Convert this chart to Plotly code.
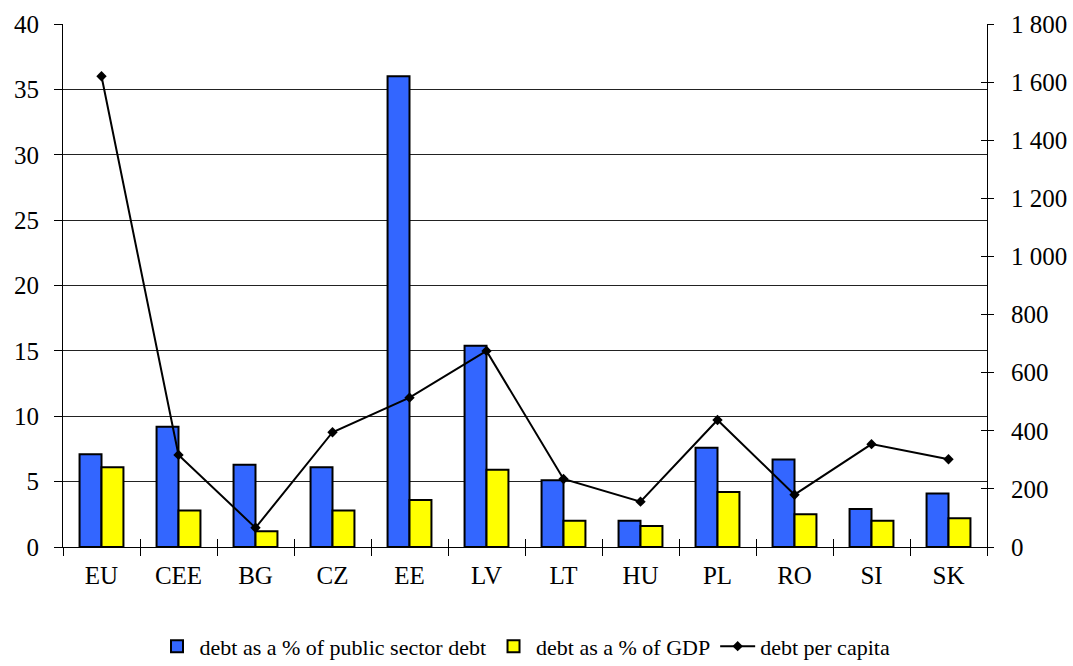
import plotly.graph_objects as go

categories = ["EU", "CEE", "BG", "CZ", "EE", "LV", "LT", "HU", "PL", "RO", "SI", "SK"]
pct_public_debt = [7.1, 9.2, 6.3, 6.1, 36.0, 15.4, 5.1, 2.0, 7.6, 6.7, 2.9, 4.1]
pct_gdp = [6.1, 2.8, 1.2, 2.8, 3.6, 5.9, 2.0, 1.6, 4.2, 2.5, 2.0, 2.2]
per_capita = [1620, 317, 66, 395, 514, 675, 234, 156, 437, 180, 354, 302]

left_ticks = [0, 5, 10, 15, 20, 25, 30, 35, 40]
right_ticks = [0, 200, 400, 600, 800, 1000, 1200, 1400, 1600, 1800]

FONT = "Liberation Serif"
TICK_SIZE = 25

fig = go.Figure()
fig.add_trace(go.Bar(
    x=categories, y=pct_public_debt, name="debt as a % of public sector debt",
    marker=dict(color="#3366FF", line=dict(color="black", width=2)),
))
fig.add_trace(go.Bar(
    x=categories, y=pct_gdp, name="debt as a % of GDP",
    marker=dict(color="#FFFF00", line=dict(color="black", width=2)),
))
fig.add_trace(go.Scatter(
    x=categories, y=per_capita, name="debt per capita", yaxis="y2",
    mode="lines+markers", line=dict(color="black", width=2),
    marker=dict(symbol="diamond", size=8, color="black"),
))
# invisible helper traces so the overlay axes (for crossing ticks) are drawn
fig.add_trace(go.Scatter(x=categories, y=[None] * len(categories), xaxis="x2",
                         showlegend=False, hoverinfo="skip", mode="markers"))
fig.add_trace(go.Scatter(x=categories, y=[None] * len(categories), yaxis="y3",
                         showlegend=False, hoverinfo="skip", mode="markers"))

xrange = [-0.5, len(categories) - 0.5]

fig.update_layout(
    width=1073, height=666,
    margin=dict(l=63, r=86, t=24, b=119, autoexpand=False),
    paper_bgcolor="white", plot_bgcolor="white",
    font=dict(family=FONT, size=TICK_SIZE, color="black"),
    separators=". ",
    barmode="group", bargap=0.43, bargroupgap=0,
    xaxis=dict(
        type="category", categoryarray=categories, categoryorder="array",
        range=xrange, autorange=False,
        showline=True, linecolor="black", linewidth=1,
        ticks="outside", ticklen=8, tickson="boundaries", tickcolor="black",
        showgrid=False, tickfont=dict(size=TICK_SIZE), automargin=False,
        ticklabelstandoff=6,
    ),
    xaxis2=dict(
        overlaying="x", matches="x", type="category", categoryarray=categories,
        anchor="y", ticks="inside", ticklen=8, tickson="boundaries",
        tickcolor="black", showticklabels=False, showgrid=False, showline=False,
    ),
    yaxis=dict(
        range=[0, 40], tickvals=left_ticks, showline=True, linecolor="black",
        linewidth=1, ticks="outside", ticklen=8, tickcolor="black",
        showgrid=True, gridcolor="#222222", gridwidth=1, zeroline=False,
        tickfont=dict(size=TICK_SIZE), automargin=False, ticklabelstandoff=10,
    ),
    yaxis2=dict(
        range=[0, 1800], tickvals=right_ticks, overlaying="y", side="right",
        showline=True, linecolor="black", linewidth=1, ticks="outside",
        ticklen=6, tickcolor="black", showgrid=False, zeroline=False,
        tickformat=",d", tickfont=dict(size=TICK_SIZE), automargin=False,
        ticklabelstandoff=12,
    ),
    yaxis3=dict(
        range=[0, 1800], tickvals=right_ticks, overlaying="y", side="right",
        anchor="x", ticks="inside", ticklen=6, tickcolor="black",
        showticklabels=False, showgrid=False, showline=False, zeroline=False,
    ),
    legend=dict(
        orientation="h", x=0.5, xanchor="center", y=-0.19, yanchor="middle",
        font=dict(size=22), itemwidth=35, tracegroupgap=0,
    ),
    showlegend=True,
)

fig.write_html(
    "out.html",
    config={"displayModeBar": False},
    post_script="document.body.style.margin='0';document.body.style.overflow='hidden';",
)
